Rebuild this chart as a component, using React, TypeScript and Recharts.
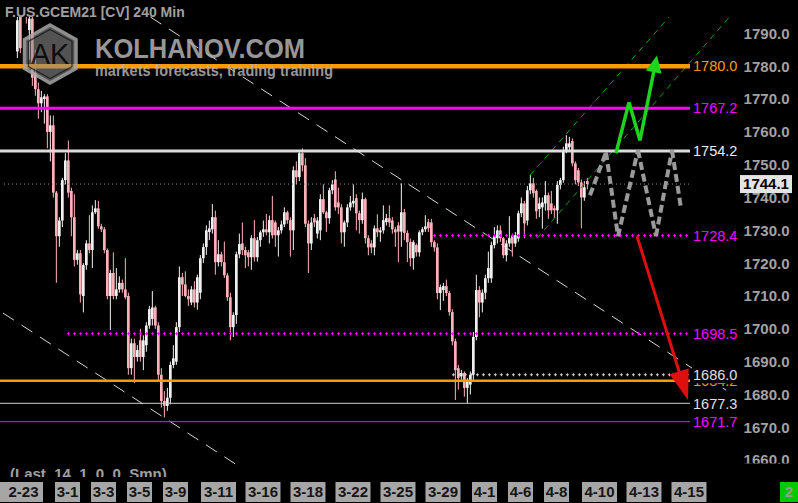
import { ComposedChart, Bar, XAxis, YAxis, ReferenceLine } from 'recharts';

// 240 min candles, F.US.GCEM21 - one entry per bar, left to right
const opens = [
  1784.5, 1796, 1802, 1799, 1791, 1794.5, 1778, 1773, 1768.7, 1770,
  1770.8, 1760, 1762, 1741.5, 1728.2, 1733, 1745.3, 1751.3, 1742, 1734,
  1721, 1723, 1710, 1719.4, 1726, 1724, 1735.5, 1736.7, 1731.2, 1730.3,
  1724, 1710, 1717, 1710, 1712, 1714, 1712, 1710, 1688, 1695.6,
  1691.4, 1696.5, 1691.4, 1695, 1701, 1703, 1706.5, 1701, 1686, 1678,
  1676.5, 1679, 1689, 1690, 1700.5, 1715.7, 1713.5, 1710, 1708, 1712,
  1708, 1711, 1721.5, 1724.9, 1729.5, 1730.3, 1734, 1720.3, 1722.7, 1720.3,
  1716.3, 1709.6, 1700.5, 1704.2, 1722.7, 1726, 1724, 1723.3, 1721.8, 1727.6,
  1721.8, 1727, 1729.4, 1730.3, 1729.4, 1733.1, 1732.4, 1728.5, 1730, 1731.8,
  1735.5, 1733.1, 1730, 1748.3, 1746.2, 1753.5, 1749.8, 1732, 1726, 1733.7,
  1729, 1730, 1739.5, 1735.5, 1733.7, 1742.2, 1745.5, 1738.5, 1737, 1729.4,
  1732.4, 1737, 1738.2, 1739.8, 1735.2, 1733.1, 1739.5, 1727.6, 1726, 1724.8,
  1730.6, 1729.4, 1730, 1732.5, 1733.7, 1733, 1730.3, 1731.5, 1729.6, 1735.5,
  1729.2, 1726.4, 1721.5, 1725.5, 1723.3, 1729.4, 1730.3, 1732.5, 1732.4, 1726.4,
  1724.8, 1710.9, 1711.8, 1713, 1710.9, 1705.1, 1696.2, 1688, 1685.5, 1686.5,
  1682, 1683, 1686, 1697.5, 1711.8, 1708, 1711, 1715.4, 1715.4, 1725.5,
  1727.6, 1730, 1727.6, 1722.4, 1726, 1728.5, 1726, 1727.5, 1735.2, 1738.2,
  1733, 1742.2, 1744.3, 1742, 1736.5, 1737, 1738.2, 1740.7, 1738.2, 1736.7,
  1736.1, 1743.8, 1745.3, 1754.4, 1755.3, 1757.2, 1750.4, 1748.3, 1744.6, 1740,
  1745,
];
const highs = [
  1795, 1797, 1806, 1801, 1796, 1796, 1785, 1775, 1772.5, 1771.5,
  1771.5, 1765, 1765, 1742, 1734, 1746, 1753.5, 1757.4, 1743, 1741,
  1724, 1724, 1720, 1727, 1734.6, 1737.6, 1739.2, 1739, 1732, 1731,
  1724.5, 1718, 1723.3, 1718.5, 1716, 1715, 1721.5, 1711, 1697, 1697,
  1695, 1700, 1698, 1702, 1707, 1711.5, 1707, 1702, 1688, 1681,
  1682, 1690, 1695, 1702, 1719, 1717, 1717.5, 1712, 1713, 1714.5,
  1716.5, 1722.5, 1726, 1731.5, 1733, 1738, 1736, 1727, 1723.5, 1726.6,
  1717, 1711, 1705, 1723.5, 1729, 1732.4, 1725, 1724, 1728.5, 1733.1,
  1728, 1730, 1733, 1735, 1734.5, 1740.5, 1733, 1731, 1733, 1737,
  1736, 1734, 1749.5, 1751, 1754.5, 1755, 1752, 1733, 1734, 1735,
  1734, 1741, 1744, 1736, 1743, 1745.3, 1748, 1743, 1738, 1733,
  1738, 1740.5, 1744, 1741, 1736, 1741.5, 1740, 1728.5, 1727, 1731.5,
  1734.9, 1731, 1737.6, 1735, 1737.6, 1734, 1731, 1732.5, 1744.3, 1736.5,
  1730, 1727.5, 1727, 1726, 1730, 1731, 1734.6, 1733.5, 1733.5, 1727,
  1726, 1713.5, 1714, 1715, 1711.5, 1706, 1697, 1689, 1687.5, 1687,
  1685, 1687, 1699, 1716.5, 1713, 1712, 1716.5, 1723.5, 1726.5, 1731,
  1731.5, 1731.5, 1728, 1727, 1734.3, 1729, 1729.5, 1736, 1740, 1739,
  1743.5, 1746.8, 1746, 1742.5, 1740, 1740, 1745, 1741.5, 1742, 1737.5,
  1745, 1746, 1755.5, 1759, 1758.5, 1758, 1751, 1749, 1745.5, 1745,
  1746,
];
const lows = [
  1782.5, 1784, 1797, 1793, 1782, 1774, 1771, 1764, 1766, 1762.5,
  1755, 1751, 1740, 1714, 1725, 1731, 1744, 1740, 1728.2, 1719,
  1719.5, 1708, 1705, 1718, 1723, 1718.5, 1735, 1730.5, 1729.5, 1723,
  1709, 1699.6, 1709, 1709, 1711, 1711, 1709, 1686, 1686, 1683.5,
  1690, 1690, 1687.4, 1693, 1700, 1701, 1700, 1684, 1676, 1673,
  1675, 1677, 1688, 1689, 1699, 1710, 1709.6, 1707, 1707.2, 1706.5,
  1705.8, 1709, 1720, 1722.5, 1727, 1729, 1716.5, 1719, 1719, 1715.5,
  1708.5, 1696.5, 1697.5, 1701.5, 1721.5, 1722.5, 1718.5, 1719, 1718, 1720.5,
  1720.5, 1725, 1728, 1728.5, 1726, 1727.5, 1725, 1722, 1729, 1731,
  1732, 1722, 1724, 1744, 1745, 1748, 1731, 1717, 1724, 1731,
  1727.5, 1727, 1735, 1729.5, 1732, 1741, 1736, 1735, 1726, 1725,
  1731, 1736, 1737, 1730, 1729, 1732, 1726, 1722.4, 1723, 1722.4,
  1728, 1726.5, 1729, 1731.5, 1731, 1729, 1725, 1720.3, 1725, 1727,
  1720.3, 1719, 1718, 1722, 1722, 1728.5, 1729.5, 1729.5, 1725, 1723.5,
  1709, 1705.7, 1708.5, 1710, 1704, 1695, 1678.3, 1681.5, 1684.5, 1679.3,
  1677.4, 1680, 1684, 1696.5, 1703.5, 1705, 1709, 1714, 1714, 1724.5,
  1726, 1726.5, 1721.5, 1720.5, 1725, 1722, 1725, 1726.5, 1734, 1727.6,
  1731.5, 1741, 1740, 1733.5, 1734, 1730.5, 1736, 1733.5, 1735, 1733.7,
  1732, 1742.5, 1744.5, 1753.5, 1754, 1749.5, 1744, 1743.5, 1730.6, 1739,
  1742.5,
];
const closes = [
  1794, 1785.5, 1799, 1795.5, 1794.5, 1776.5, 1773, 1768.7, 1770.5, 1770.8,
  1760, 1762, 1741.5, 1728.2, 1733, 1745.3, 1751.3, 1741.5, 1734, 1721,
  1723, 1710.5, 1719.4, 1726, 1724, 1735.5, 1736.7, 1731.2, 1730.3, 1724,
  1710, 1717, 1710, 1712, 1714, 1712, 1709.6, 1688, 1695.6, 1691.4,
  1693.5, 1691.4, 1696.5, 1701, 1706, 1706.5, 1701, 1686, 1678, 1676.5,
  1679, 1689, 1691, 1700.5, 1715.7, 1713.5, 1710, 1709, 1712, 1708,
  1715.7, 1721.5, 1724.9, 1730, 1730.6, 1734, 1720.3, 1722.7, 1720.3, 1716.3,
  1709.6, 1700.5, 1704.2, 1722.7, 1725.8, 1724, 1722.4, 1721.8, 1727.6, 1721.8,
  1727, 1729.4, 1730.3, 1729.4, 1733.1, 1728.5, 1728.5, 1730, 1731.8, 1735.5,
  1733.1, 1730, 1748.3, 1746.2, 1753.5, 1749.8, 1732, 1726, 1732.4, 1732.4,
  1733, 1739.5, 1735.5, 1733.7, 1742.2, 1744, 1737, 1737, 1729.4, 1732.4,
  1737, 1738.5, 1739, 1735.2, 1733.1, 1739.5, 1727.6, 1724.8, 1724.8, 1730.6,
  1729.4, 1730, 1733.1, 1733.7, 1732.4, 1730.3, 1729.4, 1729.6, 1735.5, 1729.2,
  1726.4, 1721.5, 1726.4, 1723.3, 1729.4, 1730.3, 1731.2, 1730.6, 1726.4, 1724.8,
  1710.9, 1712.7, 1713, 1710.9, 1705.1, 1696.2, 1687.4, 1685, 1686.5, 1682,
  1683.8, 1686, 1697.5, 1711.8, 1708, 1711, 1715.4, 1718.5, 1725.5, 1728.2,
  1730, 1727.6, 1722.4, 1726, 1727.6, 1726, 1728.5, 1735.2, 1738.2, 1732.1,
  1742.2, 1744.3, 1741.3, 1735.8, 1738.2, 1738.5, 1740.7, 1736.1, 1736.1, 1736.1,
  1743.8, 1745.3, 1754.4, 1756.5, 1756.5, 1750.4, 1745.3, 1744.6, 1740, 1743.1,
  1744.1,
];

// date labels of the time scale and the bar index they sit on
const tickLabels = ['2-23', '3-1', '3-3', '3-5', '3-9', '3-11', '3-16', '3-18', '3-22', '3-25', '3-29', '4-1', '4-6', '4-8', '4-10', '4-13', '4-15'];
const tickPos = [1.33, 16.67, 28.67, 40.67, 52.67, 67, 81.83, 96.83, 111.83, 126.83, 141.83, 155.67, 167.67, 179.67, 194, 208.83, 223.83];
const priceTicks = [1660, 1670, 1680, 1690, 1700, 1710, 1720, 1730, 1740, 1750, 1760, 1770, 1780, 1790];

// horizontal levels
const levelPrices = [1780.0, 1767.2, 1754.2, 1744.1, 1728.4, 1698.5, 1686.0, 1684.2, 1677.3, 1671.7];

// drawn lines, as [bar index, price] points
const trendUpper = [[44.3, 1795], [236.2, 1681.3]];
const trendLower = [[-4.83, 1704.8], [73.17, 1658.5]];
const greenUpper = [[170.83, 1746.8], [217.2, 1795]];
const greenLower = [[173.17, 1727.6], [237.3, 1795]];
const grayPath = [[190.83, 1740.7], [196.17, 1753.8], [200.17, 1728.2], [206.83, 1754.4], [212.83, 1728.2], [218.17, 1754.4], [221.17, 1736.7]];
const greenPath = [[199.5, 1753.5], [203.83, 1769.0], [207.5, 1757.4], [213.17, 1783.3]];
const redPath = [[206.5, 1728.2], [223.5, 1678.3]];

const X_MIN = -5.8333;
const X_MAX = 224.1667;

const rows = opens.map((o, i) => ({
  k: i,
  open: o,
  close: closes[i],
  high: Math.max(highs[i], o, closes[i]),
  low: Math.min(lows[i], o, closes[i]),
}));

const UP = '#f0f0f0';
const DOWN = '#ffb0b9';
const AXIS_FONT = "'Liberation Sans', Arial, sans-serif";

const Candle = (props: any) => {
  const { x, y, width, height, payload } = props;
  if (x == null || y == null) return null;
  const top = Math.min(y, y + height);
  const h = Math.abs(height);
  const span = payload.high - payload.low || 1;
  const py = (v: number) => top + ((payload.high - v) / span) * h;
  const up = payload.close >= payload.open;
  const color = up ? UP : DOWN;
  const cx = x + width / 2;
  const bTop = py(Math.max(payload.open, payload.close));
  const bBot = py(Math.min(payload.open, payload.close));
  return (
    <g>
      <rect x={cx - 0.5} y={top} width={1} height={Math.max(h, 1)} fill={color} />
      <rect x={x} y={bTop} width={width} height={Math.max(bBot - bTop, 1)} fill={color} />
    </g>
  );
};

const DateTick = (props: any) => {
  const { x, payload } = props;
  const i = tickPos.findIndex((v) => Math.abs(v - payload.value) < 1e-6);
  if (i < 0) return null;
  const label = tickLabels[i];
  const w = label.length > 3 ? 35 : 25;
  const bx = i === 0 ? 0 : x - w / 2;
  const bw = i === 0 ? 43 : w;
  return (
    <g>
      <rect x={bx} y={482} width={bw} height={20} fill="#a6a6a6" />
      <text x={bx + bw / 2 + (i === 0 ? 2 : 0)} y={492} dy="0.36em" textAnchor="middle" fill="#151515" fontSize={15} fontWeight="bold" fontFamily={AXIS_FONT}>
        {label}
      </text>
    </g>
  );
};

const PriceTick = (props: any) => (
  <text x={789.5} y={props.y} dy="0.36em" textAnchor="end" fill="#a2a2a2" fontSize={15} fontWeight="bold" fontFamily={AXIS_FONT}>
    {Number(props.payload.value).toFixed(1)}
  </text>
);

// price tag to the right of a level line
const tag = (price: number, color: string, cover = false) => (props: any) => {
  const { x, y, width } = props.viewBox;
  const lx = x + width + 3;
  return (
    <g>
      {cover && <rect x={lx - 1} y={y - 8.5} width={46} height={17} fill="#000" />}
      <text x={lx} y={y} dy="0.36em" fill={color} fontSize={14.5} fontFamily={AXIS_FONT}>
        {price.toFixed(1)}
      </text>
    </g>
  );
};

const lastTag = (price: number) => (props: any) => {
  const { x, y, width } = props.viewBox;
  const bx = x + width + 50;
  return (
    <g>
      <rect x={bx} y={y - 9} width={52} height={18} fill="#e4e4e4" />
      <text x={bx + 26} y={y} dy="0.36em" textAnchor="middle" fill="#000" fontSize={15} fontWeight="bold" fontFamily={AXIS_FONT}>
        {price.toFixed(1)}
      </text>
    </g>
  );
};

// dotted line made of small crosses
const crossLine = (color: string) => (p: any) => (
  <g>
    <line x1={p.x1} y1={p.y1} x2={p.x2} y2={p.y2} stroke={color} strokeWidth={1} strokeDasharray="3 3" />
    <line x1={p.x1 + 1} y1={p.y1} x2={p.x2} y2={p.y2} stroke={color} strokeWidth={3} strokeDasharray="1 5" />
  </g>
);

const arrow = (color: string, w: number, hl: number, hw: number) => (p: any) => {
  const dx = p.x2 - p.x1;
  const dy = p.y2 - p.y1;
  const len = Math.hypot(dx, dy) || 1;
  const ux = dx / len;
  const uy = dy / len;
  const bx = p.x2 - ux * hl;
  const by = p.y2 - uy * hl;
  return (
    <g>
      <line x1={p.x1} y1={p.y1} x2={bx + ux * 2} y2={by + uy * 2} stroke={color} strokeWidth={w} />
      <polygon points={`${p.x2},${p.y2} ${bx - uy * hw},${by + ux * hw} ${bx + uy * hw},${by - ux * hw}`} fill={color} />
    </g>
  );
};

const seg = (a: number[], b: number[]) => [{ x: a[0], y: a[1] }, { x: b[0], y: b[1] }];
const legs = (pts: number[][]) => pts.slice(1).map((p, i) => seg(pts[i], p));

export default function App() {
  const greenLegs = legs(greenPath);
  return (
    <div style={{ position: 'absolute', left: 0, top: 0, width: 798, height: 503, background: '#000', overflow: 'hidden' }}>
      <ComposedChart width={798} height={503} data={rows} margin={{ top: 17, right: 0, bottom: 0, left: 0 }}>
        <XAxis
          dataKey="k"
          type="number"
          domain={[X_MIN, X_MAX]}
          allowDataOverflow
          ticks={tickPos}
          interval={0}
          height={38}
          axisLine={false}
          tickLine={false}
          tick={<DateTick />}
        />
        <YAxis
          orientation="right"
          width={108}
          domain={[1658.5, 1795]}
          allowDataOverflow
          ticks={priceTicks}
          interval={0}
          axisLine={false}
          tickLine={false}
          tick={<PriceTick />}
        />
        <Bar dataKey={(d: any) => [d.low, d.high]} barSize={3} isAnimationActive={false} shape={<Candle />} />

        {/* trend lines */}
        <ReferenceLine segment={seg(trendUpper[0], trendUpper[1])} ifOverflow="visible" stroke="#d8d8d8" strokeWidth={1} strokeDasharray="13 9" />
        <ReferenceLine segment={seg(trendLower[0], trendLower[1])} ifOverflow="visible" stroke="#d8d8d8" strokeWidth={1} strokeDasharray="13 9" />
        <ReferenceLine segment={seg(greenUpper[0], greenUpper[1])} ifOverflow="visible" stroke="#0fa00f" strokeWidth={1} strokeDasharray="6 5" />
        <ReferenceLine segment={seg(greenLower[0], greenLower[1])} ifOverflow="visible" stroke="#0fa00f" strokeWidth={1} strokeDasharray="6 5" />

        {/* levels */}
        <ReferenceLine y={levelPrices[0]} stroke="#ff9a00" strokeWidth={4.5} label={tag(levelPrices[0], '#ff9a00')} />
        <ReferenceLine y={levelPrices[1]} stroke="#ff00ff" strokeWidth={3} label={tag(levelPrices[1], '#ff00ff')} />
        <ReferenceLine y={levelPrices[2]} stroke="#dcdcdc" strokeWidth={3} label={tag(levelPrices[2], '#ececec')} />
        <ReferenceLine segment={seg([-4.5, levelPrices[3]], [X_MAX, levelPrices[3]])} stroke="#8c8c8c" strokeWidth={1} strokeDasharray="1 3" label={lastTag(levelPrices[3])} />
        <ReferenceLine segment={seg([138.5, levelPrices[4]], [X_MAX, levelPrices[4]])} shape={crossLine('#ff00ff')} label={tag(levelPrices[4], '#ff00ff')} />
        <ReferenceLine segment={seg([16.5, levelPrices[5]], [X_MAX, levelPrices[5]])} shape={crossLine('#ff00ff')} label={tag(levelPrices[5], '#ff00ff')} />
        <ReferenceLine y={levelPrices[7]} stroke="#ff9a00" strokeWidth={2.5} label={tag(levelPrices[7], '#ff9a00')} />
        <ReferenceLine segment={seg([144.8, levelPrices[6]], [X_MAX, levelPrices[6]])} shape={crossLine('#d0d0d0')} label={tag(levelPrices[6], '#e0e0e0', true)} />
        <ReferenceLine y={levelPrices[8]} stroke="#cfcfcf" strokeWidth={1} label={tag(levelPrices[8], '#e0e0e0')} />
        <ReferenceLine y={levelPrices[9]} stroke="#ff00ff" strokeWidth={1} label={tag(levelPrices[9], '#ff00ff')} />

        {/* scenario projections */}
        {legs(grayPath).map((s, i) => (
          <ReferenceLine key={`g${i}`} segment={s} ifOverflow="visible" stroke="#9a9a9a" strokeWidth={4} strokeDasharray="8 4" />
        ))}
        {greenLegs.map((s, i) =>
          i === greenLegs.length - 1 ? (
            <ReferenceLine key={`n${i}`} segment={s} ifOverflow="visible" shape={arrow('#1fd41f', 3.5, 17, 8)} />
          ) : (
            <ReferenceLine key={`n${i}`} segment={s} ifOverflow="visible" stroke="#1fd41f" strokeWidth={3.5} />
          )
        )}
        <ReferenceLine segment={seg(redPath[0], redPath[1])} ifOverflow="visible" shape={arrow('#dd1010', 3, 30, 10)} />
      </ComposedChart>

      <svg width={798} height={503} style={{ position: 'absolute', left: 0, top: 0, pointerEvents: 'none' }}>
        <text x={5} y={12} dy="0.36em" fill="#a0a0a0" fontSize={14} fontWeight="bold" fontFamily={AXIS_FONT}>
          F.US.GCEM21 [CV] 240 Min
        </text>
        <g opacity={0.85}>
          <polygon points="50,25 76,39.5 76,68.5 50,83 24.5,68.5 24.5,39.5" fill="rgba(140,140,140,0.7)" stroke="#a8a8a8" strokeWidth={3.5} />
          <polygon points="50,29.5 72,41.5 72,66.5 50,78.5 28.5,66.5 28.5,41.5" fill="none" stroke="#2a2a2a" strokeWidth={1.3} />
          <text x={50} y={54} dy="0.36em" textAnchor="middle" fill="#111" fontSize={29} fontFamily={AXIS_FONT}>
            AK
          </text>
        </g>
        <text x={95} y={58} fill="#b2b2b2" opacity={0.85} fontSize={28} fontWeight="bold" fontFamily={AXIS_FONT} textLength={210} lengthAdjust="spacingAndGlyphs">
          KOLHANOV.COM
        </text>
        <text x={95} y={76} fill="#b2b2b2" opacity={0.85} fontSize={17} fontWeight="bold" fontFamily={AXIS_FONT} textLength={238} lengthAdjust="spacingAndGlyphs">
          markets forecasts, trading training
        </text>
        <rect x={690} y={463.5} width={108} height={18} fill="#000" />
        <defs>
          <clipPath id="lastclip">
            <rect x={0} y={455} width={250} height={22} />
          </clipPath>
        </defs>
        <text x={10} y={479} clipPath="url(#lastclip)" xmlSpace="preserve" fill="#a0a0a0" fontSize={15} fontWeight="bold" fontFamily={AXIS_FONT}>
          (Last  14  1  0  0  Smn)
        </text>
        <rect x={780} y={482} width={18} height={20} fill="#00c800" />
        <text x={789} y={492} dy="0.36em" textAnchor="middle" fill="#9a9a9a" fontSize={15} fontWeight="bold" fontFamily={AXIS_FONT}>
          2
        </text>
      </svg>
    </div>
  );
}
